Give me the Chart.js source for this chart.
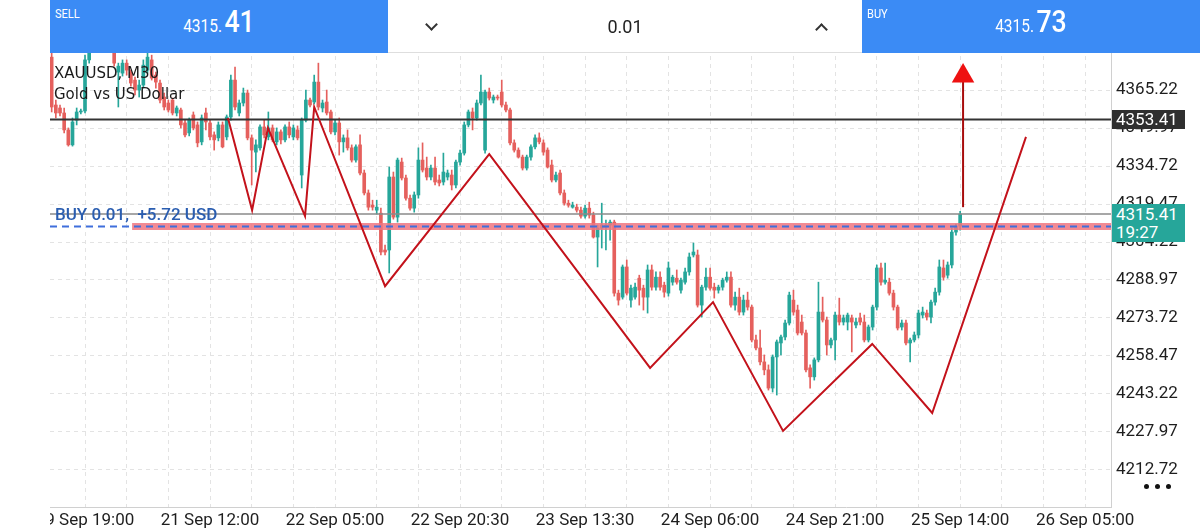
<!DOCTYPE html>
<html><head><meta charset="utf-8">
<script src="https://cdn.jsdelivr.net/npm/chart.js@4.4.1/dist/chart.umd.min.js"></script>
<style>
html,body{margin:0;padding:0;background:#fff;width:1200px;height:532px;overflow:hidden;font-family:Roboto,sans-serif;}
#wrap{position:absolute;left:50px;top:0;width:1150px;height:532px;}
.panel{position:absolute;top:0;height:53px;background:#3b8bf5;color:#fff;}
.lab{position:absolute;left:5px;top:6px;font-size:13px;transform:scaleX(.85);transform-origin:left top;}
.price{position:absolute;left:0;right:0;top:4px;text-align:center;white-space:nowrap;line-height:36px;}
.price span{display:inline-block;transform:scaleX(.86);}
.sm{font-size:18px;}
.bg{font-size:31px;font-weight:500;margin-left:-3px;}
#mid{position:absolute;left:388px;top:0;width:474px;height:52px;background:#fff;border-bottom:1px solid #dedede;}
#mid .qty{position:absolute;left:0;right:0;top:0;text-align:center;line-height:54px;font-size:18px;color:#222;}
.chev{position:absolute;width:7px;height:7px;border-color:#333;border-style:solid;border-width:0;}
#title{position:absolute;left:54px;top:63px;font-family:'DejaVu Sans',sans-serif;font-size:15px;line-height:21px;color:#1a1a1a;}
#buytxt{position:absolute;left:55px;top:204px;font-size:17px;font-weight:500;color:#2a5db0;white-space:nowrap;}
.box{position:absolute;left:1112px;width:73px;color:#fff;font-size:17px;padding-left:4px;box-sizing:border-box;}
.dot{position:absolute;top:484px;width:5px;height:5px;border-radius:50%;background:#111;}
</style></head><body>
<div id="wrap"><canvas id="c" width="1150" height="532"></canvas></div>

<div class="panel" style="left:50px;width:338px;">
  <div class="lab">SELL</div>
  <div class="price"><span class="sm">4315.</span><span class="bg">41</span></div>
</div>
<div id="mid">
  <div class="chev" style="left:39px;top:20px;border-right-width:2px;border-bottom-width:2px;transform:rotate(45deg);"></div>
  <div class="qty">0.01</div>
  <div class="chev" style="left:429px;top:25px;border-left-width:2px;border-top-width:2px;transform:rotate(45deg);"></div>
</div>
<div class="panel" style="left:862px;width:338px;">
  <div class="lab">BUY</div>
  <div class="price"><span class="sm">4315.</span><span class="bg">73</span></div>
</div>

<div id="title">XAUUSD, M30<br>Gold vs US Dollar</div>
<div id="buytxt">BUY 0.01,&nbsp; +5.72 USD</div>
<div class="box" style="top:110px;height:19px;line-height:19px;background:#2f2f2f;">4353.41</div>
<div class="box" style="top:204px;height:38px;line-height:18px;padding-top:1px;background:#26a69a;">4315.41<br>19:27</div>
<div class="dot" style="left:1144px;"></div>
<div class="dot" style="left:1155px;"></div>
<div class="dot" style="left:1166px;"></div>

<script>
// ---- data (M30 candles, bar index positions start at firstBarIndex) ----
const firstBarIndex = 2;
const opens = [
4378.4,4359.2,4358.0,4356.0,4349.2,4343.2,4353.1,4356.4,4356.8,4377.3,
4383.3,4387.3,4385.3,4390.1,4387.3,4382.0,4372.4,4372.0,4376.0,4372.4,
4369.2,4365.2,4367.2,4373.2,4377.3,4371.2,4368.0,4362.4,4360.0,4361.2,
4356.0,4357.2,4352.0,4348.0,4355.2,4351.2,4344.4,4356.0,4352.0,4347.2,
4346.0,4351.2,4346.4,4354.4,4369.2,4356.0,4360.0,4364.0,4346.0,4340.3,
4342.0,4350.4,4346.4,4350.0,4344.4,4348.4,4345.2,4350.4,4346.4,4349.2,
4331.1,4353.1,4361.2,4360.4,4368.4,4358.0,4360.4,4356.4,4348.4,4352.0,
4344.4,4346.0,4342.0,4337.1,4343.2,4331.9,4323.9,4319.0,4317.0,4315.8,
4301.0,4301.0,4330.3,4314.2,4336.3,4329.9,4321.8,4317.8,4323.1,4337.1,
4333.9,4330.3,4333.9,4329.1,4328.3,4330.3,4331.1,4327.1,4336.3,4339.9,
4351.2,4356.4,4354.0,4360.0,4341.1,4364.4,4361.2,4362.4,4364.4,4359.2,
4357.2,4344.0,4341.1,4338.3,4333.9,4338.3,4342.4,4346.0,4344.0,4341.1,
4335.1,4329.1,4331.9,4323.9,4319.8,4318.2,4318.2,4317.0,4314.6,4317.8,
4315.0,4306.2,4309.8,4310.2,4311.0,4312.2,4283.7,4282.1,4294.2,4280.9,
4282.1,4289.7,4285.7,4282.1,4293.0,4286.1,4290.1,4286.9,4283.7,4288.1,
4289.7,4284.9,4288.1,4292.2,4299.0,4299.0,4278.9,4286.1,4290.1,4286.1,
4284.9,4286.1,4288.9,4290.1,4278.9,4282.1,4276.1,4280.9,4278.1,4264.9,
4261.7,4256.1,4252.9,4245.6,4258.1,4263.7,4266.1,4271.7,4280.9,4276.9,
4272.1,4267.7,4253.7,4250.1,4256.9,4276.1,4272.9,4262.9,4264.9,4274.9,
4272.1,4272.1,4273.7,4270.9,4273.7,4272.1,4264.9,4270.1,4278.1,4293.8,
4288.1,4288.1,4283.7,4278.1,4270.1,4271.7,4263.7,4264.9,4266.9,4274.9,
4275.7,4274.1,4280.1,4284.1,4293.8,4290.9,4295.0,4308.2,4310.6];
const highs = [
4380.0,4361.2,4359.2,4358.0,4350.0,4354.0,4358.0,4357.6,4379.2,4385.3,
4390.1,4389.3,4392.5,4391.7,4388.5,4383.3,4376.0,4377.3,4377.3,4373.2,
4370.4,4369.2,4377.3,4380.0,4379.2,4372.4,4369.2,4364.0,4361.2,4362.0,
4358.8,4358.0,4353.1,4354.0,4356.4,4352.4,4355.2,4358.0,4353.1,4348.4,
4352.4,4352.4,4355.2,4371.2,4374.4,4361.2,4366.0,4365.2,4347.2,4345.2,
4351.2,4353.1,4356.4,4351.2,4350.0,4349.2,4351.2,4352.4,4351.2,4350.8,
4354.0,4365.2,4362.0,4371.2,4376.0,4361.2,4365.2,4357.2,4353.1,4354.0,
4347.2,4349.2,4343.2,4343.2,4347.2,4333.1,4325.1,4321.0,4321.0,4317.8,
4303.0,4334.3,4332.3,4337.9,4337.9,4331.1,4323.1,4324.3,4342.0,4344.0,
4338.3,4335.1,4338.3,4331.1,4339.9,4333.1,4333.1,4337.1,4341.1,4352.4,
4357.2,4358.0,4361.2,4371.2,4365.2,4366.0,4363.2,4363.2,4369.2,4360.4,
4358.0,4345.2,4342.0,4339.1,4339.1,4343.2,4347.2,4348.0,4345.2,4342.0,
4337.1,4332.3,4333.1,4325.1,4321.0,4320.2,4319.4,4318.2,4319.0,4320.2,
4316.2,4311.0,4319.8,4313.0,4313.0,4313.0,4284.9,4295.0,4297.0,4286.9,
4287.7,4290.9,4286.9,4295.0,4295.0,4292.2,4292.2,4288.1,4296.2,4290.9,
4293.0,4289.7,4293.8,4299.8,4303.8,4301.0,4286.9,4293.8,4293.8,4287.7,
4286.9,4289.7,4292.2,4292.2,4284.1,4285.7,4282.9,4284.1,4278.9,4266.9,
4268.9,4258.9,4254.9,4258.9,4264.9,4266.9,4272.9,4284.1,4284.9,4278.9,
4274.9,4268.9,4254.9,4257.7,4288.1,4282.1,4274.1,4265.7,4276.1,4281.7,
4274.9,4275.7,4274.9,4273.7,4275.7,4274.9,4270.9,4278.9,4295.0,4295.8,
4295.8,4289.7,4284.9,4278.9,4272.9,4272.9,4265.7,4268.1,4276.9,4278.1,
4276.9,4280.9,4285.7,4297.0,4297.0,4296.2,4309.8,4311.4,4316.5];
const lows = [
4356.4,4354.0,4354.8,4348.0,4342.7,4342.7,4351.2,4355.6,4356.0,4376.0,
4382.0,4383.7,4384.5,4386.1,4382.0,4374.8,4358.4,4370.8,4371.2,4366.8,
4363.2,4362.4,4366.0,4372.0,4369.2,4366.0,4360.0,4357.2,4356.4,4355.2,
4354.8,4350.0,4346.4,4346.8,4349.2,4342.4,4343.2,4349.2,4345.2,4341.1,
4344.8,4342.0,4345.2,4353.1,4357.2,4354.8,4358.8,4345.2,4327.1,4332.3,
4341.1,4346.0,4345.2,4344.4,4343.2,4343.6,4344.4,4346.0,4345.2,4345.2,
4325.9,4352.4,4358.4,4359.6,4357.2,4356.4,4355.2,4347.6,4347.2,4339.1,
4340.3,4341.1,4336.3,4336.3,4331.1,4323.1,4317.0,4317.0,4315.4,4299.0,
4299.0,4291.8,4313.4,4312.2,4329.1,4321.0,4317.0,4316.2,4321.8,4332.3,
4329.1,4329.1,4327.1,4326.7,4327.1,4329.1,4325.1,4325.9,4335.1,4339.1,
4350.4,4349.2,4353.1,4359.2,4339.9,4361.2,4360.0,4361.2,4358.4,4356.4,
4343.2,4340.3,4337.9,4333.1,4333.1,4337.1,4341.6,4343.6,4339.1,4333.9,
4328.3,4328.3,4323.1,4319.0,4318.2,4317.8,4316.2,4313.8,4313.8,4313.8,
4305.8,4294.2,4301.8,4301.0,4305.0,4282.5,4278.9,4281.3,4282.9,4278.1,
4281.3,4278.9,4276.9,4275.7,4284.9,4284.9,4284.9,4282.1,4282.5,4286.9,
4287.3,4283.7,4287.3,4290.9,4298.2,4278.1,4274.1,4284.9,4284.9,4281.7,
4283.7,4284.9,4288.1,4278.1,4276.9,4274.9,4274.9,4276.9,4264.1,4260.9,
4254.9,4250.9,4244.8,4244.0,4242.8,4258.9,4264.9,4270.9,4274.9,4266.9,
4266.9,4252.1,4245.6,4248.8,4256.1,4272.1,4258.9,4261.7,4256.9,4270.9,
4270.9,4268.9,4260.1,4269.7,4270.9,4264.1,4264.1,4268.9,4276.9,4286.9,
4287.3,4282.9,4276.9,4268.9,4268.9,4262.9,4256.1,4264.1,4265.7,4273.7,
4272.9,4271.7,4278.9,4282.9,4288.9,4289.7,4293.8,4307.0,4309.0];
const closes = [
4358.4,4356.0,4356.0,4349.2,4343.2,4352.4,4356.4,4356.8,4377.3,4383.3,
4387.3,4385.3,4390.1,4387.3,4383.3,4376.0,4374.8,4376.0,4373.2,4368.0,
4365.2,4367.2,4375.2,4378.4,4370.0,4368.4,4361.2,4358.4,4357.2,4356.0,
4358.0,4351.2,4347.2,4353.1,4350.0,4344.0,4354.0,4352.4,4346.4,4345.2,
4351.2,4342.4,4354.4,4369.2,4358.4,4360.0,4364.0,4346.0,4341.1,4343.2,
4350.4,4347.2,4350.0,4345.2,4348.4,4345.2,4350.4,4347.2,4350.0,4346.0,
4353.1,4361.2,4359.2,4368.4,4358.4,4360.0,4356.0,4348.4,4352.0,4344.4,
4346.0,4342.0,4337.1,4342.4,4331.9,4323.9,4318.2,4318.2,4318.2,4300.2,
4300.2,4330.3,4314.2,4337.1,4329.9,4321.8,4317.8,4323.1,4337.1,4333.1,
4330.3,4333.9,4328.3,4327.9,4332.3,4331.9,4327.1,4336.3,4339.9,4351.2,
4356.4,4354.0,4360.0,4364.4,4364.4,4362.0,4362.4,4362.0,4359.2,4357.2,
4344.0,4341.1,4338.3,4333.9,4338.3,4342.4,4346.0,4344.4,4340.3,4334.3,
4329.1,4331.1,4323.9,4319.8,4319.0,4319.0,4317.0,4314.6,4317.8,4315.0,
4306.2,4309.8,4311.0,4311.0,4312.2,4283.7,4280.9,4294.2,4283.7,4285.7,
4286.1,4284.9,4282.1,4293.0,4286.1,4290.1,4286.1,4284.1,4293.8,4290.1,
4288.1,4288.9,4292.2,4298.2,4300.2,4278.9,4286.1,4290.1,4285.7,4284.9,
4286.1,4288.9,4290.1,4278.9,4282.1,4276.1,4280.9,4278.1,4264.9,4261.7,
4256.1,4252.9,4245.6,4258.1,4264.1,4266.1,4271.7,4282.9,4276.1,4267.7,
4267.7,4252.9,4250.1,4256.9,4276.1,4272.9,4262.9,4264.9,4274.9,4272.1,
4273.7,4274.9,4272.1,4272.1,4272.1,4264.9,4270.1,4278.1,4293.8,4288.1,
4288.9,4283.7,4278.1,4269.7,4271.7,4263.7,4264.9,4266.9,4275.7,4276.1,
4274.1,4280.1,4284.1,4294.2,4290.1,4295.0,4308.2,4310.6,4315.41];

// x axis: bar-index positions of grid lines and time labels
const gridPositions = [10,20,30,40,50,60,70,80,90,100,110,120,130,140,150,160,170,180,190,200,210,220,230,240,250];
const timeLabelPositions = [10,40,70,100,130,160,190,220,250];
const timeLabels = ['19 Sep 19:00','21 Sep 12:00','22 Sep 05:00','22 Sep 20:30','23 Sep 13:30','24 Sep 06:00','24 Sep 21:00','25 Sep 14:00','26 Sep 05:00'];
const priceTicks = [4212.72,4227.97,4243.22,4258.47,4273.72,4288.97,4304.22,4319.47,4334.72,4349.97,4365.22];

// drawn objects
const zigzagX = [44.3,50.1,53.9,62.8,65.0,82.0,107.0,145.6,160.7,177.5,198.9,213.3,235.8];
const zigzagY = [4354.0,4317.0,4350.0,4314.6,4358.4,4286.5,4339.5,4253.7,4280.1,4228.4,4263.3,4235.6,4346.4];
const arrowX = 220.7, arrowFrom = 4318.2, arrowTo = 4368.5, arrowHead = 4370.8;
const resistanceLevel = 4353.41;
const bidPrice = 4315.41;
const entryPrice = 4310.45;
const entryBandStart = 21.3;
const xMin = 1.6, xMax = 256.2, yMin = 4197.87, yMax = 4401.34;

const UP = '#26a69a', DOWN = '#e5605d';
const candleColor = (k) => closes[k] >= opens[k] ? UP : DOWN;
const wickData = opens.map((o,k) => ({x: firstBarIndex + k, y: [lows[k], highs[k]]}));
const bodyData = opens.map((o,k) => ({x: firstBarIndex + k, y: [o, closes[k]]}));
const colors = opens.map((o,k) => candleColor(k));
const hLine = (v, from) => [{x: from, y: v}, {x: xMax, y: v}];

Chart.defaults.font.family = 'Roboto';
new Chart(document.getElementById('c'), {
  type: 'bar',
  data: {
    datasets: [
      {type:'line', order:0, data:[{x:arrowX, y:arrowHead}], showLine:false, pointStyle:'triangle', pointRadius:13, pointHoverRadius:13, pointBackgroundColor:'#ee1111', pointBorderWidth:0},
      {type:'line', order:1, data: zigzagX.map((x,k)=>({x, y: zigzagY[k]})), borderColor:'#c3121b', borderWidth:2, pointRadius:0, pointHoverRadius:0, tension:0, fill:false},
      {type:'line', order:2, data:[{x:arrowX,y:arrowFrom},{x:arrowX,y:arrowTo}], borderColor:'#a80d0d', borderWidth:2, pointRadius:0, pointHoverRadius:0, fill:false},
      {type:'line', order:3, data: hLine(entryPrice, xMin), borderColor:'#3f6fdc', borderWidth:2, borderDash:[7,5], pointRadius:0, pointHoverRadius:0, fill:false},
      {type:'line', order:4, data: hLine(entryPrice, entryBandStart), borderColor:'rgba(240,118,128,0.85)', borderWidth:7, pointRadius:0, pointHoverRadius:0, fill:false},
      {type:'line', order:5, data: hLine(bidPrice, xMin), borderColor:'#8a8a8a', borderWidth:1.5, pointRadius:0, pointHoverRadius:0, fill:false},
      {type:'line', order:6, data: hLine(resistanceLevel, xMin), borderColor:'#333333', borderWidth:2, pointRadius:0, pointHoverRadius:0, fill:false},
      {type:'bar', order:7, data: bodyData, backgroundColor: colors, barThickness:3, minBarLength:1, grouped:false},
      {type:'bar', order:8, data: wickData, backgroundColor: colors, barThickness:1, grouped:false}
    ]
  },
  options: {
    responsive:false, animation:false, devicePixelRatio:1, events:[],
    layout:{padding:0, autoPadding:false},
    plugins:{legend:{display:false}, tooltip:{enabled:false}},
    scales:{
      x:{type:'linear', min:xMin, max:xMax, offset:false, bounds:'data',
         grid:{color:'#e3e3e3', offset:false, drawTicks:false},
         border:{display:true, color:'#d0d0d0', dash:[4,4]},
         afterBuildTicks:(s)=>{ s.ticks = gridPositions.map(v=>({value:v})); },
         afterFit:(s)=>{ s.height = 25; s.paddingLeft = 0; s.paddingRight = 0; },
         ticks:{autoSkip:false, maxRotation:0, padding:4, color:'#1e1e1e', font:{size:17},
                callback:(v)=>{ const k = timeLabelPositions.indexOf(v); return k>=0 ? timeLabels[k] : ''; }}},
      y:{type:'linear', position:'right', min:yMin, max:yMax, beginAtZero:false,
         grid:{color:'#e3e3e3', drawTicks:false},
         border:{display:true, color:'#d0d0d0', dash:[4,4]},
         afterBuildTicks:(s)=>{ s.ticks = priceTicks.map(v=>({value:v})); },
         afterFit:(s)=>{ s.width = 89; s.paddingTop = 0; s.paddingBottom = 0; },
         ticks:{padding:5, color:'#1e1e1e', font:{size:17}, callback:(v)=>Number(v).toFixed(2)}}
    }
  }
});
</script>
</body></html>
